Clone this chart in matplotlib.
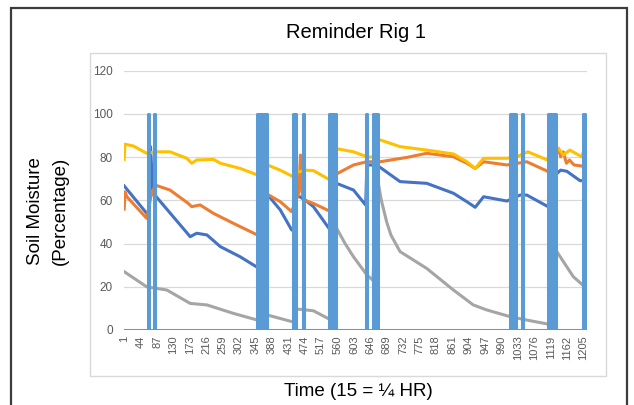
import matplotlib
matplotlib.use('Agg')
import matplotlib.pyplot as plt
from matplotlib.patches import Rectangle

plt.rcParams['font.family'] = ['Liberation Sans', 'DejaVu Sans']

# soil moisture readings, key points (sample index, %)
blue_x = [1, 60, 66, 70, 76, 85, 174, 191, 218, 253, 305, 350, 375, 410, 440, 445, 450, 462, 475, 497, 540,
          556, 602, 634, 637, 663, 724, 794, 864, 899, 921, 943, 1004, 1039, 1056, 1113, 1131, 1145, 1161, 1196, 1213]
blue_y = [66.7, 54, 52, 84.9, 64.8, 61.7, 43.2, 44.8, 44, 38.6, 33.9, 29, 63, 55.6, 46.3, 46, 62, 61.6, 60.2, 57.1, 46.5,
          68, 64.8, 57.8, 76.4, 76.4, 68.7, 67.9, 63.3, 59.4, 56.8, 61.7, 59.7, 62.5, 62.5, 57, 71.8, 74, 73.5, 69.1, 69.4]

orange_x = [1, 3, 8, 60, 71, 82, 121, 169, 178, 200, 235, 287, 350, 375, 410, 440, 455, 459, 463, 468, 475, 497, 540,
            555, 602, 637, 672, 742, 794, 864, 899, 921, 943, 1004, 1056, 1113, 1131, 1139, 1145, 1152, 1160, 1168, 1180, 1213]
orange_y = [56, 64, 61.7, 51.7, 61.7, 67.1, 64.8, 58.6, 57.1, 57.9, 54, 49.4, 44, 63, 59.4, 54.8, 61.7, 64, 81, 62.5, 60, 58.6, 55,
            72, 76.4, 77.9, 77.9, 79.9, 81.8, 80.2, 77.2, 74.8, 77.9, 76.4, 77.9, 73.3, 83, 84.1, 80.2, 82.5, 77.2, 78.7, 76.4, 75.6]

gray_x = [1, 60, 113, 174, 218, 287, 350, 375, 440, 445, 450, 462, 497, 540, 555, 580, 602, 637, 653, 665, 669, 675, 689,
          700, 724, 794, 864, 916, 951, 1012, 1056, 1113, 1131, 1136, 1178, 1208, 1213]
gray_y = [27, 20, 18.5, 12.3, 11.6, 7.7, 4.6, 7, 3.9, 3.8, 9.6, 9.6, 8.9, 4.9, 48, 40, 33.9, 25.5, 23, 70, 66, 60, 50,
          44, 36.3, 28.5, 18.5, 11.6, 9.3, 6.2, 4.6, 2.7, 37, 36, 24.7, 20, 20]

yellow_x = [1, 3, 25, 60, 87, 121, 165, 178, 191, 235, 253, 305, 350, 375, 410, 440, 445, 450, 455, 462, 475, 497, 540,
            556, 602, 637, 653, 665, 672, 724, 794, 864, 899, 921, 943, 1004, 1030, 1059, 1113, 1131, 1139, 1152, 1169, 1200, 1210, 1213]
yellow_y = [79, 86, 85.2, 81.8, 82.5, 82.5, 79.5, 77.2, 78.7, 79, 77.2, 74.8, 71.8, 76.5, 74, 71.3, 71, 74, 73.5, 73.3, 74, 73.8, 69.5,
            84, 82.5, 80.2, 80, 88.5, 88, 84.9, 83.3, 81.5, 77.9, 74.8, 79.5, 79.5, 80.2, 82.5, 78.5, 84, 84.1, 81, 83.3, 80.2, 85, 72]

# watering events (series goes 0 -> 100 between on and off)
water_on = [63, 79, 350, 444, 469, 539, 634, 654, 1013, 1043, 1112, 1204]
water_off = [67, 83, 375, 451, 473, 556, 638, 666, 1028, 1047, 1132, 1208]
n_points = 1213

tick_vals = list(range(1, 1206, 43))

# build the watering step series from the event lists
wx = [1]
wy = [0]
for a, b in zip(water_on, water_off):
    wx += [a, a, b, b]
    wy += [0, 100, 100, 0]
wx.append(n_points)
wy.append(0)

fig = plt.figure(figsize=(6.34, 4.05), dpi=100)
fig.patch.set_facecolor('white')

# outer frame + chart area box
fig.patches.append(Rectangle((11/634, -0.02), 616/634, 1.02 - 8/405, transform=fig.transFigure,
                             fill=False, edgecolor='#3c3c3c', linewidth=1.6))
fig.patches.append(Rectangle((90/634, 1 - 376/405), 516/634, 323/405, transform=fig.transFigure,
                             fill=False, edgecolor='#d9d9d9', linewidth=1.0))

ax = fig.add_axes([124/634, 75/405, 463/634, 259.2/405])

lw = 2.2
ax.plot(blue_x, blue_y, color='#4472C4', lw=lw, solid_joinstyle='round')
ax.plot(orange_x, orange_y, color='#ED7D31', lw=lw, solid_joinstyle='round')
ax.plot(gray_x, gray_y, color='#A5A5A5', lw=lw, solid_joinstyle='round')
ax.plot(yellow_x, yellow_y, color='#FFC000', lw=lw, solid_joinstyle='round')
# watering series sits on top of the moisture lines
ax.fill_between(wx, wy, color='#5B9BD5', lw=0, zorder=3)
ax.plot(wx, wy, color='#5B9BD5', lw=lw, zorder=3)

ax.set_xlim(0.5, 1214)
ax.set_ylim(0, 120)
ax.set_yticks(range(0, 121, 20))
ax.set_xticks(tick_vals)
ax.set_xticklabels([str(t) for t in tick_vals], rotation=90)
ax.tick_params(axis='y', length=0, labelsize=8.5, labelcolor='#595959', pad=8)
ax.tick_params(axis='x', length=0, labelsize=8, labelcolor='#595959', pad=4)
ax.grid(axis='y', color='#d9d9d9', lw=0.9)
ax.set_axisbelow(True)
for s in ax.spines.values():
    s.set_visible(False)

fig.text(356/634, 1 - 33/405, 'Reminder Rig 1', ha='center', va='center', fontsize=14.5)
fig.text(358/634, 1 - 392/405, 'Time (15 = ¼ HR)', ha='center', va='center', fontsize=13.5)
fig.text(47.5/634, 1 - 211/405, 'Soil Moisture\n(Percentage)', ha='center', va='center',
         rotation=90, fontsize=13.5, linespacing=1.6)

fig.savefig('out.png', dpi=100)
